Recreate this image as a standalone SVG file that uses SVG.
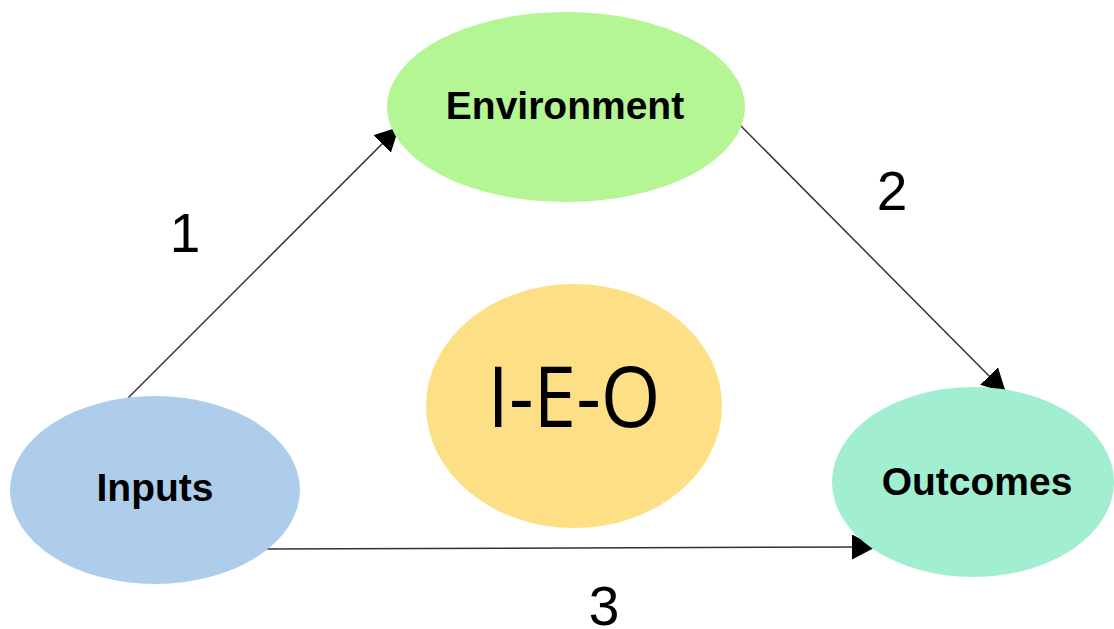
<svg xmlns="http://www.w3.org/2000/svg" width="1114" height="629" viewBox="0 0 1114 629">
  <defs>
    <marker id="arrow" markerUnits="userSpaceOnUse" markerWidth="25" markerHeight="25" refX="24" refY="12.5" orient="auto" viewBox="0 0 25 25">
      <path d="M0,0 L24,12.5 L0,25 z" fill="#000"/>
    </marker>
    <style>
      .label { font-family: "Liberation Sans", Arial, sans-serif; font-weight: bold; font-size: 39px; fill: #000; text-anchor: middle; }
      .num { font-family: "Liberation Sans", Arial, sans-serif; font-size: 55px; fill: #000; text-anchor: middle; }
      .conn { stroke: #333; stroke-width: 1.5; fill: none; marker-end: url(#arrow); }
    </style>
  </defs>
  <rect width="1114" height="629" fill="#fff"/>

  <g id="connectors">
    <line class="conn" x1="128" y1="398" x2="399" y2="127"/>
    <line class="conn" x1="737" y1="122" x2="1006" y2="393"/>
    <line class="conn" x1="261" y1="549" x2="876" y2="547"/>
    <text class="num" x="185" y="252">1</text>
    <text class="num" x="892" y="210">2</text>
    <text class="num" x="604" y="625">3</text>
  </g>

  <g id="ieo">
    <ellipse cx="574" cy="406" rx="148" ry="122" fill="#fddf85"/>
    <text x="574" y="427" font-family="'Open Sans', 'Noto Sans', sans-serif" font-size="84" text-anchor="middle" textLength="173" lengthAdjust="spacingAndGlyphs" fill="#000">I-E-O</text>
  </g>

  <g id="environment">
    <ellipse cx="566" cy="107" rx="179" ry="95" fill="#b4f594"/>
    <text class="label" x="565" y="119">Environment</text>
  </g>

  <g id="inputs">
    <ellipse cx="155" cy="490" rx="145" ry="94" fill="#aecdeb"/>
    <text class="label" x="155" y="501">Inputs</text>
  </g>

  <g id="outcomes">
    <ellipse cx="973" cy="482" rx="141" ry="95" fill="#a1efd0"/>
    <text class="label" x="977" y="495">Outcomes</text>
  </g>
</svg>
